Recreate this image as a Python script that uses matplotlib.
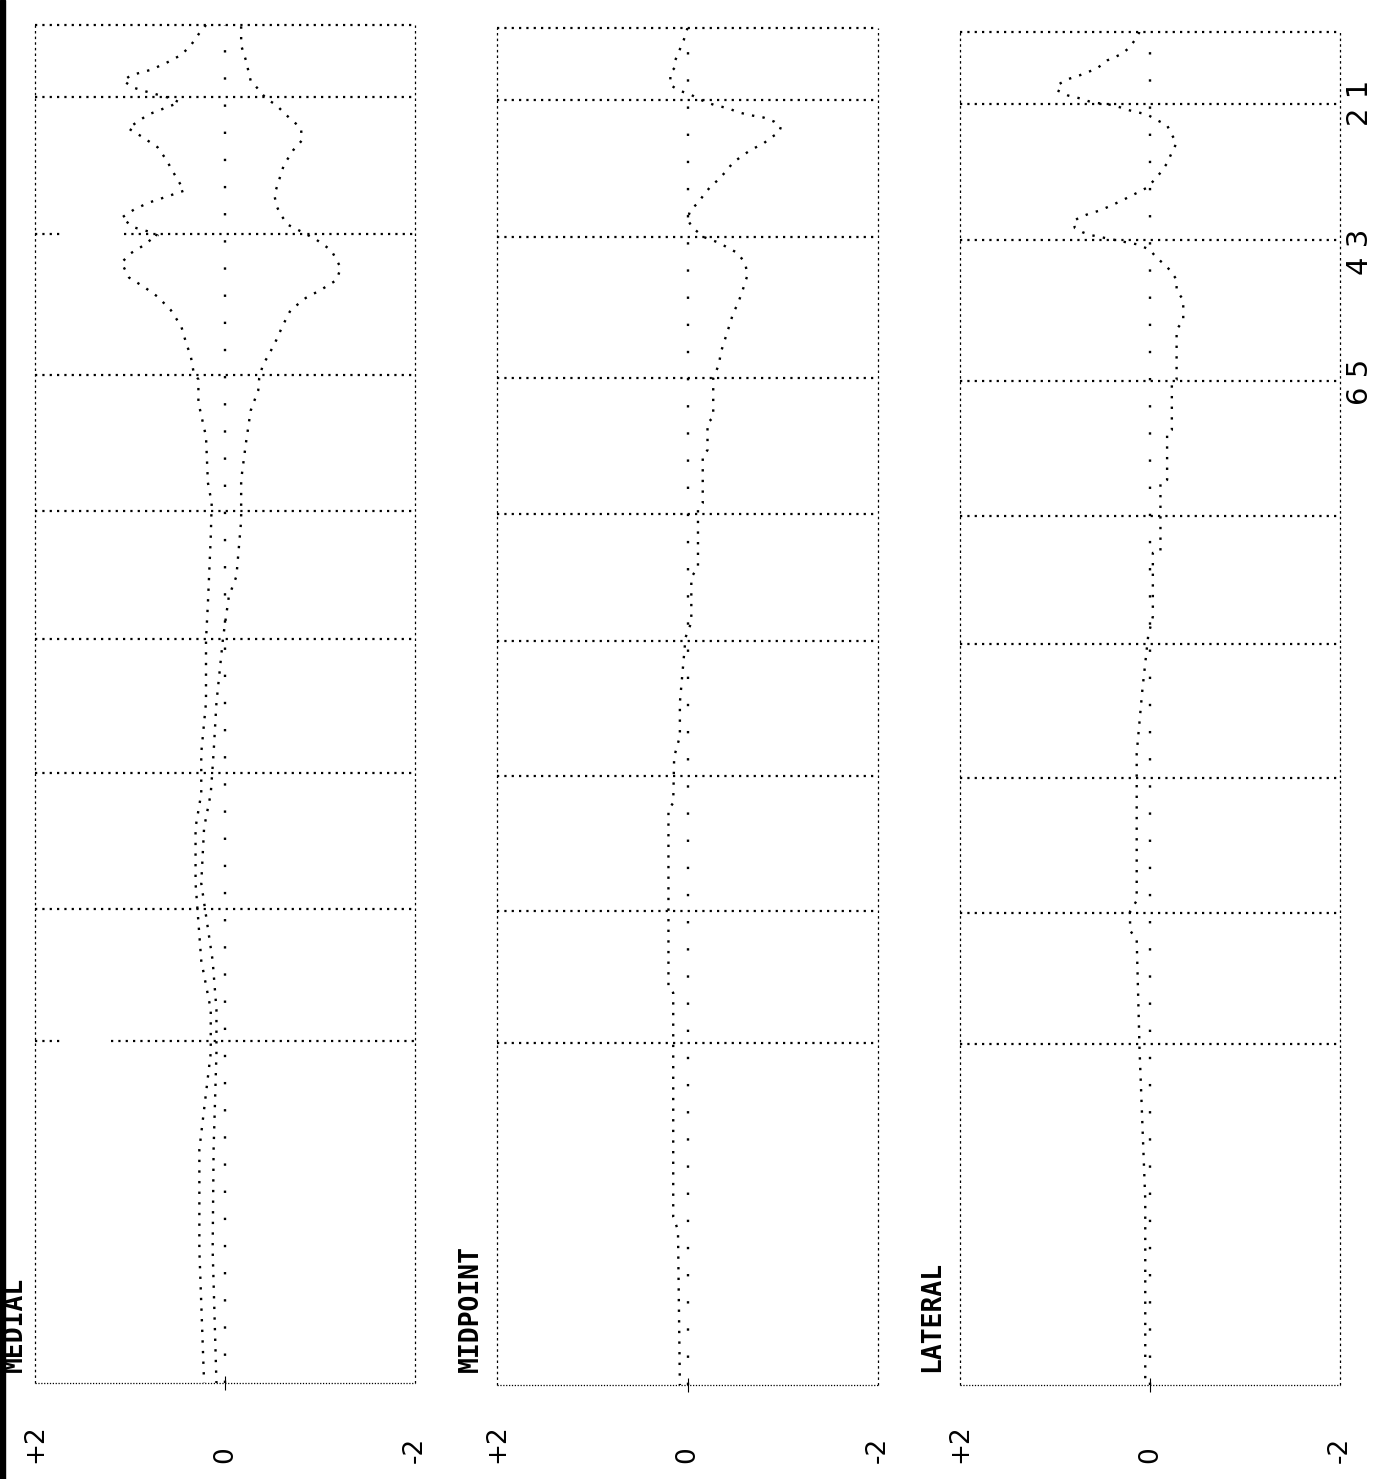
import matplotlib.pyplot as plt
import matplotlib.transforms as mtransforms
from matplotlib.patches import Rectangle

# position along the strip: 0 = top edge, 100 = bottom edge
section_bounds = [5.3, 15.4, 25.8, 35.8, 45.2, 55.1, 65.1, 74.8]

# MEDIAL: two traces (positive side / negative side)
medial_upper_s = [0, 0.6, 1.5, 2.2, 2.8, 3.3, 3.7, 4.1, 4.6, 4.9, 5.4, 5.7, 6.6, 7.6, 8.2,
                  9.0, 9.9, 10.9, 12.2, 12.7, 13.1, 13.6, 14.2, 14.9, 15.2, 15.5, 15.8,
                  16.2, 16.8, 17.5, 18.6, 19.3, 20.0, 21.0, 22.2, 23.4, 24.4, 25.6, 26.1,
                  27.8, 30.3, 33.7, 35.2, 37.7, 42.6, 45.3, 49.9, 53.6, 56.6, 59.1, 63.2,
                  68.9, 72.5, 75.7, 82.8, 90.2, 100]
medial_upper_v = [0.20, 0.27, 0.36, 0.46, 0.62, 0.78, 0.99, 1.07, 0.97, 0.83, 0.57, 0.48,
                  0.81, 1.02, 0.88, 0.71, 0.62, 0.54, 0.43, 0.64, 0.81, 0.96, 1.09, 0.96,
                  0.81, 0.71, 0.78, 0.85, 0.99, 1.09, 1.01, 0.85, 0.71, 0.57, 0.46, 0.41,
                  0.36, 0.33, 0.28, 0.28, 0.20, 0.18, 0.14, 0.15, 0.18, 0.20, 0.20, 0.25,
                  0.25, 0.31, 0.31, 0.25, 0.15, 0.15, 0.27, 0.27, 0.22]
medial_lower_s = [0.1, 1.5, 2.6, 4.1, 4.8, 5.4, 5.9, 6.6, 7.6, 8.5, 9.2, 10.3, 11.4, 12.5,
                  13.3, 14.0, 14.7, 15.2, 15.8, 16.6, 17.9, 18.8, 19.5, 20.1, 21.0, 22.1,
                  23.2, 24.3, 25.0, 26.0, 26.9, 28.4, 30.8, 33.5, 36.5, 40.6, 42.1, 45.1,
                  49.9, 53.6, 56.6, 59.1, 63.2, 68.9, 72.5, 75.7, 82.8, 90.2, 100]
medial_lower_v = [-0.17, -0.17, -0.22, -0.27, -0.36, -0.43, -0.54, -0.64, -0.80, -0.81,
                  -0.72, -0.62, -0.57, -0.52, -0.54, -0.59, -0.66, -0.80, -0.96, -1.12,
                  -1.22, -1.17, -1.01, -0.85, -0.69, -0.61, -0.54, -0.46, -0.40, -0.36,
                  -0.35, -0.27, -0.22, -0.17, -0.17, -0.12, -0.04, 0.02, 0.09, 0.12, 0.15,
                  0.22, 0.25, 0.13, 0.09, 0.09, 0.12, 0.13, 0.09]

midpoint_s = [0, 0.9, 1.4, 2.4, 2.9, 3.3, 4.2, 4.6, 4.9, 5.3, 5.7, 5.9, 6.2, 6.4, 6.6, 6.9,
              7.3, 7.7, 8.1, 8.5, 9.0, 9.5, 9.9, 10.6, 11.2, 11.7, 12.3, 12.9, 13.4, 14.1,
              14.7, 15.4, 15.8, 16.1, 16.6, 17.1, 17.5, 18.2, 19.3, 20.3, 21.0, 21.7, 22.8,
              23.9, 24.8, 25.8, 28.7, 29.1, 31.1, 31.6, 35.0, 35.5, 39.7, 40.5, 43.8, 44.9,
              49.7, 52.2, 53.7, 57.1, 57.6, 70.7, 71.1, 87.6, 88.6, 100]
midpoint_v = [0.0, 0.04, 0.07, 0.13, 0.13, 0.18, 0.18, 0.09, -0.03, -0.14, -0.29, -0.42,
              -0.53, -0.64, -0.80, -0.91, -0.98, -0.96, -0.87, -0.80, -0.66, -0.56, -0.48,
              -0.40, -0.32, -0.24, -0.17, -0.11, -0.03, 0.0, -0.05, -0.17, -0.32, -0.40,
              -0.53, -0.58, -0.61, -0.63, -0.58, -0.53, -0.48, -0.45, -0.40, -0.35, -0.33,
              -0.27, -0.27, -0.21, -0.21, -0.16, -0.16, -0.11, -0.11, -0.04, -0.04, 0.02,
              0.08, 0.08, 0.14, 0.15, 0.20, 0.20, 0.15, 0.15, 0.10, 0.08]

lateral_s = [0, 0.6, 1.1, 1.6, 2.1, 2.7, 3.2, 3.5, 3.9, 4.3, 4.7, 4.9, 5.2, 5.4, 5.8, 6.1,
             6.5, 6.9, 7.6, 8.2, 8.9, 9.7, 10.4, 10.9, 11.5, 11.9, 12.4, 12.8, 13.2, 13.4,
             13.7, 14.0, 14.5, 14.8, 15.0, 15.2, 15.5, 15.7, 16.1, 16.7, 17.1, 17.6, 18.3,
             19.1, 19.8, 21.3, 22.0, 25.7, 25.9, 29.4, 29.6, 33.1, 33.3, 38.4, 38.5, 43.2,
             44.7, 48.6, 53.3, 64.2, 65.0, 66.4, 67.1, 75.2, 86.3, 100]
lateral_v = [0.11, 0.16, 0.21, 0.29, 0.45, 0.56, 0.74, 0.87, 0.97, 0.98, 0.86, 0.74, 0.61,
             0.39, 0.21, 0.03, -0.07, -0.18, -0.23, -0.28, -0.23, -0.18, -0.11, -0.05, 0.03,
             0.14, 0.28, 0.40, 0.53, 0.63, 0.74, 0.81, 0.79, 0.71, 0.63, 0.49, 0.28, 0.13,
             0.0, -0.07, -0.14, -0.21, -0.28, -0.28, -0.35, -0.35, -0.28, -0.28, -0.23,
             -0.23, -0.18, -0.18, -0.11, -0.11, -0.03, -0.03, 0.02, 0.08, 0.14, 0.14, 0.21,
             0.21, 0.14, 0.11, 0.05, 0.05]

tick_values = [2, 0, -2]
tick_labels = ['+2', '0', '-2']
panel_names = ['MEDIAL', 'MIDPOINT', 'LATERAL']
side_labels = ['2 1', '4 3', '6 5']

W, H = 1379, 1479
fig = plt.figure(figsize=(W / 100, H / 100), dpi=100)

# panel boxes in pixels: left, right, top, bottom
boxes = [(35, 415, 25, 1383), (497, 878, 28, 1385), (960, 1340, 32, 1385)]
name_x = [15, 471, 932]

grid_style = dict(color='black', lw=1.6, linestyle=(0, (1, 2.3)))
curve_style = dict(color='black', lw=1.7, linestyle=(0, (1, 3.5)))

axes = []
for (l, r, t, b) in boxes:
    ax = fig.add_axes([l / W, 1 - b / H, (r - l) / W, (b - t) / H])
    ax.set_xlim(2, -2)
    ax.set_ylim(100, 0)
    for sp in ax.spines.values():
        sp.set_visible(False)
    ax.set_yticks([])
    ax.set_xticks([0])
    ax.set_xticklabels([])
    ax.tick_params(axis='x', direction='inout', length=10, width=0.8)
    # frame
    ax.axhline(0, clip_on=False, **grid_style)
    ax.axhline(100, color='black', lw=0.9, linestyle=(0, (1, 1.3)), clip_on=False)
    for xv in (2, -2):
        ax.axvline(xv, color='black', lw=0.9, linestyle=(0, (2, 2.5)), clip_on=False)
    # zero reference
    ax.axvline(0, color='black', lw=1.7, linestyle=(0, (1, 10.5)))
    # tick labels
    trans = mtransforms.blended_transform_factory(ax.transData, fig.transFigure)
    for v, lab in zip(tick_values, tick_labels):
        ax.text(v, 16 / H, lab, transform=trans, rotation=90, ha='center', va='bottom',
                fontsize=19, family='DejaVu Sans', clip_on=False)
    axes.append(ax)

# section boundaries (first panel has two broken lines)
for i, ax in enumerate(axes):
    for sb in section_bounds:
        if i == 0 and sb in (15.4, 74.8):
            gap = (1.71, 1.06) if sb == 15.4 else (1.69, 1.2)
            ax.hlines(sb, 2, gap[0], **grid_style)
            ax.hlines(sb, gap[1], -2, **grid_style)
        else:
            ax.hlines(sb, 2, -2, **grid_style)

axes[0].plot(medial_upper_v, medial_upper_s, **curve_style)
axes[0].plot(medial_lower_v, medial_lower_s, **curve_style)
axes[1].plot(midpoint_v, midpoint_s, **curve_style)
axes[2].plot(lateral_v, lateral_s, **curve_style)

for name, nx in zip(panel_names, name_x):
    fig.text(nx / W, 1 - 1372 / H, name, rotation=90, ha='center', va='bottom',
             fontsize=19, family='DejaVu Sans Mono', weight='bold')

for lab, cy in zip(side_labels, [103, 252, 382]):
    fig.text(1360 / W, 1 - cy / H, lab, rotation=90, ha='center', va='center',
             fontsize=21, family='DejaVu Sans')

# dark scan edge on the left
fig.patches.append(Rectangle((0, 0), 5 / W, 1, transform=fig.transFigure,
                             color='black', zorder=10))

fig.savefig('out.png', dpi=100, facecolor='white')
